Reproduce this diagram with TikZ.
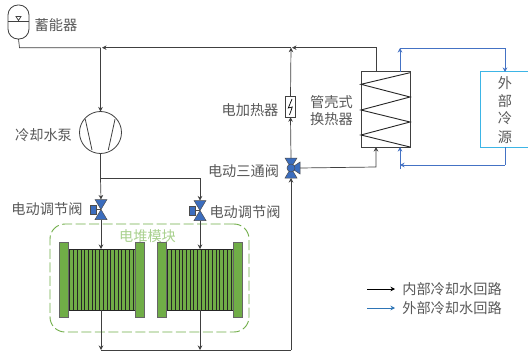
\documentclass[tikz,border=0pt]{standalone}
\usepackage{fontspec}
\setmainfont{Noto Sans CJK SC}
\usetikzlibrary{arrows.meta}
\definecolor{ln}{HTML}{404040}
\definecolor{txt}{HTML}{595959}
\definecolor{blueline}{HTML}{4472C4}
\definecolor{valveblue}{HTML}{3B6DBE}
\definecolor{stackgreen}{HTML}{70AD47}
\definecolor{lightgreen}{HTML}{A9D18E}
\definecolor{srccyan}{HTML}{3DB5E6}
\definecolor{legblue}{HTML}{2E75B6}
\tikzset{
  pipe/.style={draw=ln,line width=0.7pt},
  pipearrow/.style={pipe,-{Stealth[length=4.5pt,width=4.5pt]}},
  extpipe/.style={draw=blueline,line width=0.7pt},
  extarrow/.style={extpipe,-{Stealth[length=4.5pt,width=4.5pt]}},
  label/.style={font=\fontsize{14.2}{16}\selectfont,text=txt,inner sep=0pt,anchor=center},
  valvebody/.style={draw=black!70,fill=valveblue,line width=0.5pt},
  valvenode/.style={inner sep=0pt,minimum width=12pt,minimum height=20pt,outer sep=0pt},
  plate/.style={draw=black!60,fill=stackgreen,line width=0.7pt},
  rib/.style={draw=black!85,line width=0.8pt},
  joint/.style={inner sep=0pt,minimum size=0pt,outer sep=0pt},
}
\newcommand{\mybowtie}[1]{%
  \draw[valvebody] (#1.north west) -- (#1.north east) -- (#1.center) -- cycle;
  \draw[valvebody] (#1.south west) -- (#1.south east) -- (#1.center) -- cycle;
}
\newcommand{\mystack}[1]{% left x of body
  \fill[stackgreen] (#1,249) rectangle ++(67,61);
  \foreach \k in {0,...,17}{\draw[rib] ({#1+1.8+\k*3.72},249) -- ++(0,61);}
  \draw[draw=black!85,line width=0.8pt] (#1,249) -- ++(67,0) (#1,310) -- ++(67,0);
  \path[plate] ({#1-9},242) rectangle ++(9,75);
  \path[plate] ({#1+67},242) rectangle ++(9,75);
}
\begin{document}
\begin{tikzpicture}[x=1pt,y=-1pt]
\useasboundingbox (0,0) rectangle (528,353);
\clip (0,0) rectangle (528,353);
\fill[white] (0,0) rectangle (528,353);

% junctions
\node[joint] (topL) at (100.5,47.7) {};
\node[joint] (topM) at (291,47.7) {};
\node[joint] (topR) at (376,47.7) {};
\node[joint] (accB) at (19.5,47.7) {};
\node[joint] (split) at (100.5,178) {};
\node[joint] (splitR) at (200,178) {};
\node[joint] (botL) at (101,350) {};
\node[joint] (botM) at (200,350) {};
\node[joint] (botR) at (291,350) {};
\node[joint] (tvCorner) at (376,167) {};
\node[joint] (extTL) at (400,48) {};
\node[joint] (extTR) at (505,48) {};
\node[joint] (extBR) at (505,165) {};
\node[joint] (extBL) at (400,165) {};
\node[joint] (extBL2) at (400,169) {};

% accumulator
\node[draw=ln,line width=0.8pt,rounded corners=10pt,minimum width=21pt,minimum height=34pt,inner sep=0pt,outer sep=0pt] (acc) at (18.5,22) {};
\draw[ln,line width=0.7pt] (8,21.5) -- (29,21.5);
\draw[ln,line width=0.7pt] (16,16.5) -- (21,16.5) -- (18.5,20.5) -- cycle;
\node[label] (accT) at (56,25) {蓄能器};

% pump
\node[draw=ln,line width=0.8pt,circle,minimum size=42pt,inner sep=0pt,outer sep=0pt] (pump) at (100.5,132.5) {};
\draw[ln,line width=0.8pt] (85.3,119.3) -- (92,150) (115,119.3) -- (108.3,150);
\node[label] (pumpT) at (43.5,135) {冷却水泵};

% heat exchanger
\node[draw=ln,line width=1pt,minimum width=49pt,minimum height=75pt,inner sep=0pt,outer sep=0pt] (hx) at (385.5,109.5) {};
\draw[black!85,line width=0.9pt] (410,72.7) -- (361,84.3) -- (410,97) -- (361,110) -- (410,122) -- (361,135) -- (410,147);
\node[label] (hxT1) at (331.5,102) {管壳式};
\node[label] (hxT2) at (331.5,119) {换热器};

% heater
\node[draw=ln,line width=0.8pt,minimum width=9.5pt,minimum height=20.5pt,inner sep=0pt,outer sep=0pt] (heater) at (290.5,107) {};
\draw[black,line width=0.7pt] (292,99) -- (288.3,108) -- (292.3,107) -- (289.5,115);
\node[label] (heaterT) at (250,110) {电加热器};

% three-way valve
\node[valvenode] (tv) at (291,168) {};
\mybowtie{tv}
\fill[valvebody] (tv.center) -- (300,162) -- (300,174) -- cycle;
\node[joint] (tvR) at (300,168) {};
\fill[valvebody] (tv.center) circle (4pt);
\node[label] (tvT) at (243.5,171) {电动三通阀};

% control valves
\node[valvenode] (vL) at (101,209.5) {};
\mybowtie{vL}
\node[draw=black!70,fill=valveblue,line width=0.5pt,minimum width=6pt,minimum height=9pt,inner sep=0pt,outer sep=0pt] (aL) at (93,209.5) {};
\draw[black!70,line width=0.6pt] (aL.east) -- (vL.center);
\node[label] (vLT) at (47,209) {电动调节阀};
\node[valvenode] (vR) at (200,210.5) {};
\mybowtie{vR}
\node[draw=black!70,fill=valveblue,line width=0.5pt,minimum width=6pt,minimum height=9pt,inner sep=0pt,outer sep=0pt] (aR) at (192,210.5) {};
\draw[black!70,line width=0.6pt] (aR.east) -- (vR.center);
\node[label] (vRT) at (245,212) {电动调节阀};

% module box
\node[draw=stackgreen,line width=0.9pt,dash pattern=on 10pt off 3.5pt,rounded corners=15pt,minimum width=199pt,minimum height=108pt,inner sep=0pt,outer sep=0pt] (module) at (149.5,278) {};
\node[label,text=lightgreen] (moduleT) at (147.5,236.5) {电堆模块};

% stacks
\mystack{68}
\mystack{166}
\node[joint] (s1t) at (101,249) {};
\node[joint] (s1b) at (101,310) {};
\node[joint] (s2t) at (200,249) {};
\node[joint] (s2b) at (200,310) {};

% external source
\node[draw=srccyan,line width=1pt,minimum width=50pt,minimum height=75pt,inner sep=0pt,outer sep=0pt] (src) at (505,109.5) {};
\node[label] (srcT1) at (505,83.5) {外};
\node[label] (srcT2) at (505,101.5) {部};
\node[label] (srcT3) at (505,118.5) {冷};
\node[label] (srcT4) at (505,137) {源};

% internal connectors
\draw[pipe] (acc.south) -- (accB.center) -- (topL.center);
\draw[pipearrow] (topM.center) -- ([xshift=1.5pt]topL.center);
\draw[pipearrow] (topL.center) -- (pump.north);
\draw[pipe] (pump.south) -- (split.center);
\draw[pipearrow] (split.center) -- (vL.north);
\draw[pipe] (split.center) -- (splitR.center);
\draw[pipearrow] (splitR.center) -- (vR.north);
\draw[pipearrow] (vL.south) -- (s1t.center);
\draw[pipearrow] (vR.south) -- (s2t.center);
\draw[pipearrow] (s1b.center) -- (botL.center);
\draw[pipearrow] (s2b.center) -- (botM.center);
\draw[pipe] (botL.center) -- (botR.center);
\draw[pipearrow] (botR.center) -- (tv.south);
\draw[pipearrow] (tv.north) -- (heater.south);
\draw[pipearrow] (heater.north) -- (topM.center);
\draw[pipearrow] (hx.north -| tvCorner) -- (topR.center) -- ([xshift=1pt]topM.center);
\draw[pipearrow] (tvR.center) -- (tvCorner.center) -- (hx.south -| tvCorner);

% external connectors
\draw[extarrow] (hx.north -| extTL) -- (extTL.center);
\draw[extarrow] (extTL.center) -- (extTR.center) -- (src.north);
\draw[extpipe] (src.south) -- (extBR.center);
\draw[extarrow] (extBR.center) -- (extBL.center);
\draw[extarrow] (extBL2.center) -- (hx.south -| extBL2);

% legend
\node[joint] (l1a) at (367,289) {};
\node[joint] (l1b) at (395,289) {};
\node[joint] (l2a) at (367,308) {};
\node[joint] (l2b) at (395,308) {};
\draw[pipearrow,draw=black] (l1a.center) -- (l1b.center);
\draw[extarrow,draw=legblue] (l2a.center) -- (l2b.center);
\node[label] (l1T) at (452,289.5) {内部冷却水回路};
\node[label] (l2T) at (452,308.5) {外部冷却水回路};
\end{tikzpicture}
\end{document}
